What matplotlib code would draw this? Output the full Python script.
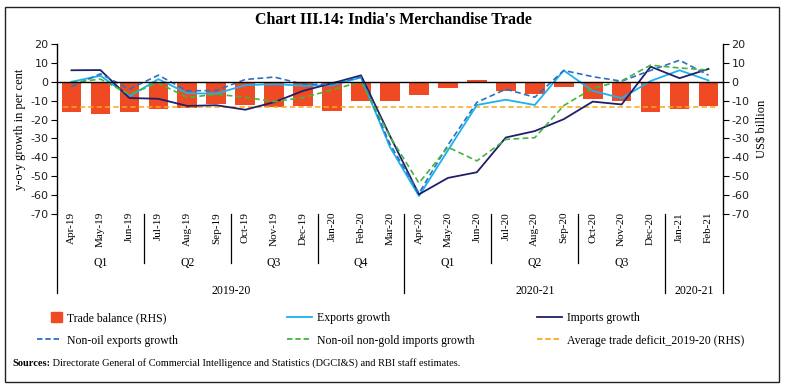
import matplotlib
matplotlib.use("Agg")
import matplotlib.pyplot as plt
import matplotlib.patches as mpatches
from matplotlib.lines import Line2D
from matplotlib.legend_handler import HandlerPatch
from matplotlib.text import Annotation
import numpy as np

plt.rcParams['axes.unicode_minus'] = False

months = ['Apr-19', 'May-19', 'Jun-19', 'Jul-19', 'Aug-19', 'Sep-19', 'Oct-19', 'Nov-19',
          'Dec-19', 'Jan-20', 'Feb-20', 'Mar-20', 'Apr-20', 'May-20', 'Jun-20', 'Jul-20',
          'Aug-20', 'Sep-20', 'Oct-20', 'Nov-20', 'Dec-20', 'Jan-21', 'Feb-21']
trade_balance = [-16.1, -17.0, -16.1, -14.4, -14.0, -11.8, -12.1, -13.2, -12.6, -15.3, -10.2, -10.0,
                 -7.0, -3.5, 0.7, -4.7, -6.7, -2.6, -9.0, -10.4, -15.8, -14.6, -12.8]
exports_growth = [0.0, 3.2, -7.7, 1.4, -6.1, -6.3, -1.8, -1.2, -2.1, -1.9, 2.3, -34.6,
                  -60.5, -36.3, -12.3, -9.5, -12.3, 6.0, -4.8, -8.7, 0.4, 6.1, 0.7]
imports_growth = [6.1, 6.2, -8.6, -9.0, -12.8, -12.4, -14.8, -10.8, -4.8, -0.8, 3.4, -28.7,
                  -59.6, -50.9, -47.9, -29.5, -26.1, -19.8, -10.5, -12.0, 8.0, 1.9, 6.8]
non_oil_exports = [-2.6, 4.2, -3.9, 3.5, -4.8, -4.6, 1.2, 2.5, -1.3, -1.4, 2.6, -33.0,
                   -59.0, -33.5, -10.9, -3.9, -8.2, 6.0, 2.7, 0.3, 6.0, 11.4, 3.5]
non_oil_non_gold_imports = [-0.4, 1.4, -6.6, -0.6, -8.4, -6.6, -8.2, -10.5, -8.4, -4.3, 0.0, -29.0,
                            -53.6, -34.6, -41.9, -30.5, -29.6, -12.6, -3.5, 0.5, 8.8, 7.3, 6.2]
avg_trade_deficit_2019_20 = -13.2

quarters = ['Q1', 'Q2', 'Q3', 'Q4', 'Q1', 'Q2', 'Q3', '']
quarter_sizes = [3, 3, 3, 3, 3, 3, 3, 2]
years = ['2019-20', '2020-21', '2020-21']
year_sizes = [12, 9, 2]

yticks = [20, 10, 0, -10, -20, -30, -40, -50, -60, -70]

SERIF = 'Liberation Serif'
SANS = 'DejaVu Sans'

C_BAR = '#f04a24'
C_EXP = '#19b2ee'
C_IMP = '#1f1f6b'
C_NOE = '#2f6fc0'
C_NONG = '#45b43e'
C_AVG = '#f7a81b'

fig = plt.figure(figsize=(7.86, 3.86), dpi=100)
W, H = 786, 386
L, R, T, B = 57, 723, 44, 214
ax = fig.add_axes([L / W, 1 - B / H, (R - L) / W, (B - T) / H])
ax2 = ax.twinx()

x = np.arange(len(months))

# RHS: bars and average line
ax2.bar(x, trade_balance, width=0.68, color=C_BAR, zorder=2, label='Trade balance (RHS)')
ax2.hlines(avg_trade_deficit_2019_20, -0.3, len(months) - 0.7, colors=C_AVG,
           linestyles=(0, (3.5, 2)), linewidth=1.1, zorder=3)

# LHS: lines
ax.set_zorder(ax2.get_zorder() + 1)
ax.patch.set_visible(False)
ax.plot(x, exports_growth, color=C_EXP, lw=1.3, label='Exports growth')
ax.plot(x, imports_growth, color=C_IMP, lw=1.3, label='Imports growth')
ax.plot(x, non_oil_exports, color=C_NOE, lw=1.2, ls=(0, (3.5, 2)), label='Non-oil exports growth')
ax.plot(x, non_oil_non_gold_imports, color=C_NONG, lw=1.2, ls=(0, (3.5, 2)),
        label='Non-oil non-gold imports growth')

for a in (ax, ax2):
    a.set_ylim(-70, 20)
    a.set_xlim(-0.5, len(months) - 0.5)
    a.set_yticks(yticks)

ax.spines['top'].set_visible(False)
ax2.spines['top'].set_visible(False)
ax.spines['right'].set_visible(False)
ax2.spines['left'].set_visible(False)
ax2.spines['bottom'].set_visible(False)
ax.spines['bottom'].set_position(('data', 0))
ax.spines['bottom'].set_linewidth(1.0)
ax.spines['left'].set_linewidth(1.0)
ax2.spines['right'].set_linewidth(1.0)

ax.set_xticks(np.arange(-0.5, len(months) + 0.5, 1.0))
ax.set_xticklabels([])
ax.tick_params(axis='x', direction='out', length=4, width=0.8)
ax2.set_xticks([])
ax.tick_params(axis='y', direction='out', length=4, width=0.8, pad=2, labelsize=8)
ax2.tick_params(axis='y', direction='out', length=4, width=0.8, pad=2, labelsize=8)
for lab in ax.get_yticklabels() + ax2.get_yticklabels():
    lab.set_fontfamily(SANS)
    lab.set_color('#222222')

ax.set_ylabel('y-o-y growth in per cent', fontfamily=SERIF, fontsize=9, labelpad=3)
ax2.set_ylabel('US$ billion', fontfamily=SERIF, fontsize=9, labelpad=5)

# multi-level category axis
trans = ax.get_xaxis_transform()
for i, m in enumerate(months):
    ax.text(i, 0.012, m, transform=trans, rotation=90, ha='center', va='top',
            fontfamily=SERIF, fontsize=8)

y_q = -0.288
y_y = -0.465
qb = np.cumsum([0] + quarter_sizes) - 0.5
yb = set((np.cumsum([0] + year_sizes) - 0.5).tolist())
for b in qb:
    bottom = y_y if b in yb else y_q
    ax.plot([b, b], [0, bottom], transform=trans, color='black', lw=0.9, clip_on=False)
start = 0
for q, n in zip(quarters, quarter_sizes):
    if q:
        ax.text(start + (n - 1) / 2, y_q, q, transform=trans, ha='center', va='center',
                fontfamily=SERIF, fontsize=8.5)
    start += n
start = 0
for yr, n in zip(years, year_sizes):
    ax.text(start + (n - 1) / 2, y_y + 0.01, yr, transform=trans, ha='center', va='center',
            fontfamily=SERIF, fontsize=8.5)
    start += n

# legends
def square_patch(legend, orig_handle, xdescent, ydescent, width, height, fontsize):
    s = 7.5
    return mpatches.Rectangle((-xdescent + width - s, -ydescent + (height - s) / 2), s, s)

h_bar = mpatches.Patch(color=C_BAR)
h_exp = Line2D([], [], color=C_EXP, lw=1.3)
h_imp = Line2D([], [], color=C_IMP, lw=1.3)
h_noe = Line2D([], [], color=C_NOE, lw=1.3, ls=(0, (3, 1.6)))
h_nong = Line2D([], [], color=C_NONG, lw=1.3, ls=(0, (3, 1.6)))
h_avg = Line2D([], [], color=C_AVG, lw=1.3, ls=(0, (3, 1.6)))

cols = [([h_bar, h_noe], ['Trade balance (RHS)', 'Non-oil exports growth'], 37),
        ([h_exp, h_nong], ['Exports growth', 'Non-oil non-gold imports growth'], 287),
        ([h_imp, h_avg], ['Imports growth', 'Average trade deficit_2019-20 (RHS)'], 537)]
for hs, ls_, px in cols:
    fig.legend(hs, ls_, loc='upper left', bbox_to_anchor=(px / W, 1 - 312 / H),
               frameon=False, borderpad=0, borderaxespad=0, handlelength=2.1,
               handletextpad=0.45, labelspacing=0.9,
               prop={'family': SERIF, 'size': 8.5},
               handler_map={mpatches.Patch: HandlerPatch(patch_func=square_patch)})

# title
fig.text(0.5, 1 - 20 / H, "Chart III.14: India's Merchandise Trade", ha='center', va='center',
         fontfamily=SERIF, fontsize=11.5, fontweight='bold')

# sources
t1 = fig.text(12 / W, 1 - 363 / H, 'Sources:', ha='left', va='center',
              fontfamily=SERIF, fontsize=7.5, fontweight='bold')
fig.add_artist(Annotation(' Directorate General of Commercial Intelligence and Statistics (DGCI&S) and RBI staff estimates.',
                          xy=(1, 0), xycoords=t1, va='bottom', ha='left',
                          fontfamily=SERIF, fontsize=7.5))

# frame
fig.add_artist(mpatches.Rectangle((5 / W, 1 - 382 / H), 774 / W, 375 / H, transform=fig.transFigure,
                                  fill=False, edgecolor='#222222', lw=1.0))

fig.savefig('out.png', dpi=100)
